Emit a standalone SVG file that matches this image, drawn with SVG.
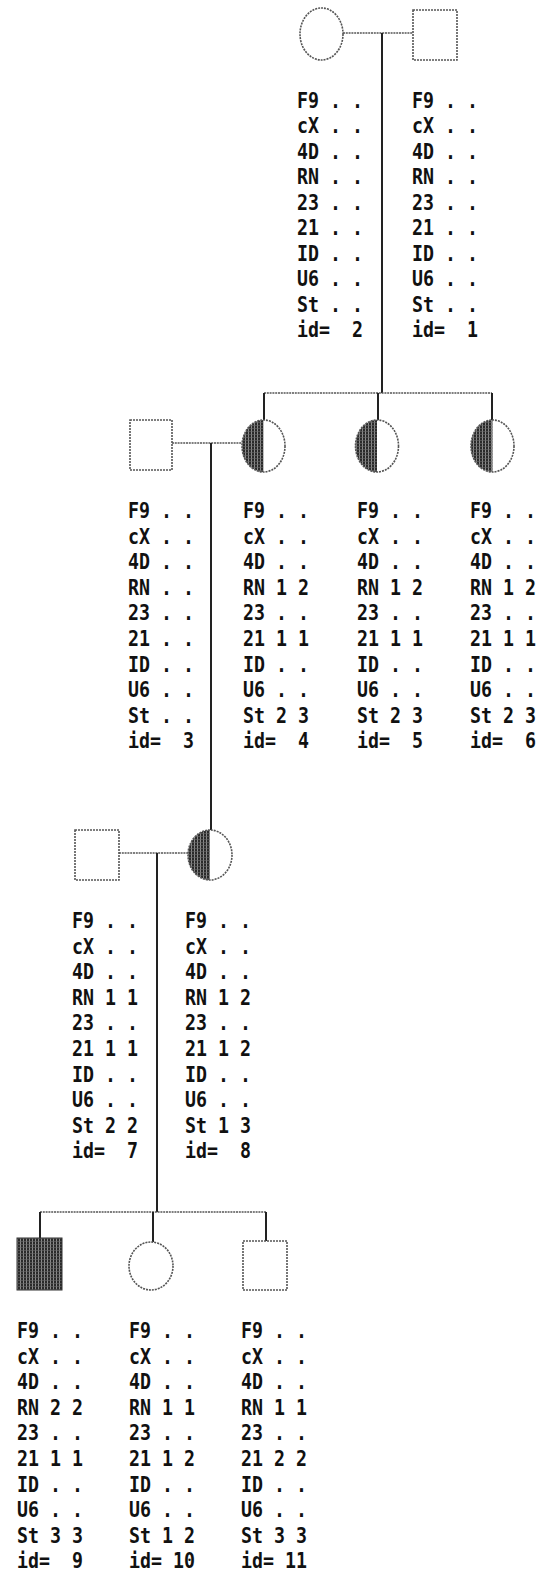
<svg xmlns="http://www.w3.org/2000/svg" width="538" height="1574" viewBox="0 0 538 1574" xml:space="preserve">
<style>
.t{font-family:"DejaVu Sans Mono","Liberation Mono",monospace;font-weight:bold;font-size:18.27px;fill:#111;white-space:pre}
.ln{stroke:#555;stroke-width:1.6;fill:none;stroke-dasharray:2 0.8}
.vl{stroke:#222;stroke-width:2;fill:none}
.sh{stroke:#555;stroke-width:1.6;fill:none;stroke-dasharray:2 1}
.hf{fill:url(#hatch);stroke:none}
</style>
<defs>
<pattern id="hatch" width="3" height="3" patternUnits="userSpaceOnUse">
<rect width="3" height="3" fill="#2a2a2a"/>
<rect x="2" width="1" height="3" fill="#8a8a8a"/>
<rect y="2" width="3" height="0.6" fill="#6a6a6a"/>
</pattern>
</defs>
<g id="connectors">
<line class="ln" x1="343" y1="33" x2="413" y2="33"/>
<line class="vl" x1="382" y1="33" x2="382" y2="393"/>
<line class="ln" x1="264" y1="393" x2="492" y2="393"/>
<line class="vl" x1="264" y1="393" x2="264" y2="420"/>
<line class="vl" x1="378" y1="393" x2="378" y2="420"/>
<line class="vl" x1="492" y1="393" x2="492" y2="420"/>
<line class="ln" x1="172" y1="443" x2="242" y2="443"/>
<line class="vl" x1="211" y1="443" x2="211" y2="830"/>
<line class="ln" x1="119" y1="853" x2="188" y2="853"/>
<line class="vl" x1="157" y1="853" x2="157" y2="1212"/>
<line class="ln" x1="40" y1="1212" x2="266" y2="1212"/>
<line class="vl" x1="40" y1="1212" x2="40" y2="1238"/>
<line class="vl" x1="153" y1="1212" x2="153" y2="1242"/>
<line class="vl" x1="266" y1="1212" x2="266" y2="1241"/>
</g>
<g id="node2">
<ellipse class="sh" cx="321.5" cy="34" rx="21.5" ry="26"/>
<g transform="translate(297,108) scale(1,1.18)">
<text class="t" y="0"><tspan x="0" y="0">F9 . .</tspan><tspan x="0" dy="21.6">cX . .</tspan><tspan x="0" dy="21.6">4D . .</tspan><tspan x="0" dy="21.6">RN . .</tspan><tspan x="0" dy="21.6">23 . .</tspan><tspan x="0" dy="21.6">21 . .</tspan><tspan x="0" dy="21.6">ID . .</tspan><tspan x="0" dy="21.6">U6 . .</tspan><tspan x="0" dy="21.6">St . .</tspan><tspan x="0" dy="21.6">id=  2</tspan></text>
</g>
</g>
<g id="node1">
<rect class="sh" x="413" y="10" width="44" height="50"/>
<g transform="translate(412,108) scale(1,1.18)">
<text class="t" y="0"><tspan x="0" y="0">F9 . .</tspan><tspan x="0" dy="21.6">cX . .</tspan><tspan x="0" dy="21.6">4D . .</tspan><tspan x="0" dy="21.6">RN . .</tspan><tspan x="0" dy="21.6">23 . .</tspan><tspan x="0" dy="21.6">21 . .</tspan><tspan x="0" dy="21.6">ID . .</tspan><tspan x="0" dy="21.6">U6 . .</tspan><tspan x="0" dy="21.6">St . .</tspan><tspan x="0" dy="21.6">id=  1</tspan></text>
</g>
</g>
<g id="node3">
<rect class="sh" x="130" y="420" width="42" height="50"/>
<g transform="translate(128,518) scale(1,1.18)">
<text class="t" y="0"><tspan x="0" y="0">F9 . .</tspan><tspan x="0" dy="21.69">cX . .</tspan><tspan x="0" dy="21.69">4D . .</tspan><tspan x="0" dy="21.69">RN . .</tspan><tspan x="0" dy="21.69">23 . .</tspan><tspan x="0" dy="21.69">21 . .</tspan><tspan x="0" dy="21.69">ID . .</tspan><tspan x="0" dy="21.69">U6 . .</tspan><tspan x="0" dy="21.69">St . .</tspan><tspan x="0" dy="21.69">id=  3</tspan></text>
</g>
</g>
<g id="node4">
<path class="hf" d="M263.5,420 A21.5,26 0 0 0 263.5,472 Z"/>
<ellipse class="sh" cx="263.5" cy="446" rx="21.5" ry="26"/>
<g transform="translate(243,518) scale(1,1.18)">
<text class="t" y="0"><tspan x="0" y="0">F9 . .</tspan><tspan x="0" dy="21.69">cX . .</tspan><tspan x="0" dy="21.69">4D . .</tspan><tspan x="0" dy="21.69">RN 1 2</tspan><tspan x="0" dy="21.69">23 . .</tspan><tspan x="0" dy="21.69">21 1 1</tspan><tspan x="0" dy="21.69">ID . .</tspan><tspan x="0" dy="21.69">U6 . .</tspan><tspan x="0" dy="21.69">St 2 3</tspan><tspan x="0" dy="21.69">id=  4</tspan></text>
</g>
</g>
<g id="node5">
<path class="hf" d="M377,420 A21.5,26 0 0 0 377,472 Z"/>
<ellipse class="sh" cx="377" cy="446" rx="21.5" ry="26"/>
<g transform="translate(357,518) scale(1,1.18)">
<text class="t" y="0"><tspan x="0" y="0">F9 . .</tspan><tspan x="0" dy="21.69">cX . .</tspan><tspan x="0" dy="21.69">4D . .</tspan><tspan x="0" dy="21.69">RN 1 2</tspan><tspan x="0" dy="21.69">23 . .</tspan><tspan x="0" dy="21.69">21 1 1</tspan><tspan x="0" dy="21.69">ID . .</tspan><tspan x="0" dy="21.69">U6 . .</tspan><tspan x="0" dy="21.69">St 2 3</tspan><tspan x="0" dy="21.69">id=  5</tspan></text>
</g>
</g>
<g id="node6">
<path class="hf" d="M492.5,420 A21.5,26 0 0 0 492.5,472 Z"/>
<ellipse class="sh" cx="492.5" cy="446" rx="21.5" ry="26"/>
<g transform="translate(470,518) scale(1,1.18)">
<text class="t" y="0"><tspan x="0" y="0">F9 . .</tspan><tspan x="0" dy="21.69">cX . .</tspan><tspan x="0" dy="21.69">4D . .</tspan><tspan x="0" dy="21.69">RN 1 2</tspan><tspan x="0" dy="21.69">23 . .</tspan><tspan x="0" dy="21.69">21 1 1</tspan><tspan x="0" dy="21.69">ID . .</tspan><tspan x="0" dy="21.69">U6 . .</tspan><tspan x="0" dy="21.69">St 2 3</tspan><tspan x="0" dy="21.69">id=  6</tspan></text>
</g>
</g>
<g id="node7">
<rect class="sh" x="75" y="830" width="44" height="50"/>
<g transform="translate(72,928) scale(1,1.18)">
<text class="t" y="0"><tspan x="0" y="0">F9 . .</tspan><tspan x="0" dy="21.69">cX . .</tspan><tspan x="0" dy="21.69">4D . .</tspan><tspan x="0" dy="21.69">RN 1 1</tspan><tspan x="0" dy="21.69">23 . .</tspan><tspan x="0" dy="21.69">21 1 1</tspan><tspan x="0" dy="21.69">ID . .</tspan><tspan x="0" dy="21.69">U6 . .</tspan><tspan x="0" dy="21.69">St 2 2</tspan><tspan x="0" dy="21.69">id=  7</tspan></text>
</g>
</g>
<g id="node8">
<path class="hf" d="M210,830 A22,25 0 0 0 210,880 Z"/>
<ellipse class="sh" cx="210" cy="855" rx="22" ry="25"/>
<g transform="translate(185,928) scale(1,1.18)">
<text class="t" y="0"><tspan x="0" y="0">F9 . .</tspan><tspan x="0" dy="21.69">cX . .</tspan><tspan x="0" dy="21.69">4D . .</tspan><tspan x="0" dy="21.69">RN 1 2</tspan><tspan x="0" dy="21.69">23 . .</tspan><tspan x="0" dy="21.69">21 1 2</tspan><tspan x="0" dy="21.69">ID . .</tspan><tspan x="0" dy="21.69">U6 . .</tspan><tspan x="0" dy="21.69">St 1 3</tspan><tspan x="0" dy="21.69">id=  8</tspan></text>
</g>
</g>
<g id="node9">
<rect x="17" y="1238" width="45" height="52" fill="url(#hatch)" stroke="#333" stroke-width="1"/>
<g transform="translate(17,1338) scale(1,1.18)">
<text class="t" y="0"><tspan x="0" y="0">F9 . .</tspan><tspan x="0" dy="21.69">cX . .</tspan><tspan x="0" dy="21.69">4D . .</tspan><tspan x="0" dy="21.69">RN 2 2</tspan><tspan x="0" dy="21.69">23 . .</tspan><tspan x="0" dy="21.69">21 1 1</tspan><tspan x="0" dy="21.69">ID . .</tspan><tspan x="0" dy="21.69">U6 . .</tspan><tspan x="0" dy="21.69">St 3 3</tspan><tspan x="0" dy="21.69">id=  9</tspan></text>
</g>
</g>
<g id="node10">
<ellipse class="sh" cx="151" cy="1266" rx="22" ry="24"/>
<g transform="translate(129,1338) scale(1,1.18)">
<text class="t" y="0"><tspan x="0" y="0">F9 . .</tspan><tspan x="0" dy="21.69">cX . .</tspan><tspan x="0" dy="21.69">4D . .</tspan><tspan x="0" dy="21.69">RN 1 1</tspan><tspan x="0" dy="21.69">23 . .</tspan><tspan x="0" dy="21.69">21 1 2</tspan><tspan x="0" dy="21.69">ID . .</tspan><tspan x="0" dy="21.69">U6 . .</tspan><tspan x="0" dy="21.69">St 1 2</tspan><tspan x="0" dy="21.69">id= 10</tspan></text>
</g>
</g>
<g id="node11">
<rect class="sh" x="243" y="1241" width="44" height="49"/>
<g transform="translate(241,1338) scale(1,1.18)">
<text class="t" y="0"><tspan x="0" y="0">F9 . .</tspan><tspan x="0" dy="21.69">cX . .</tspan><tspan x="0" dy="21.69">4D . .</tspan><tspan x="0" dy="21.69">RN 1 1</tspan><tspan x="0" dy="21.69">23 . .</tspan><tspan x="0" dy="21.69">21 2 2</tspan><tspan x="0" dy="21.69">ID . .</tspan><tspan x="0" dy="21.69">U6 . .</tspan><tspan x="0" dy="21.69">St 3 3</tspan><tspan x="0" dy="21.69">id= 11</tspan></text>
</g>
</g>
</svg>
